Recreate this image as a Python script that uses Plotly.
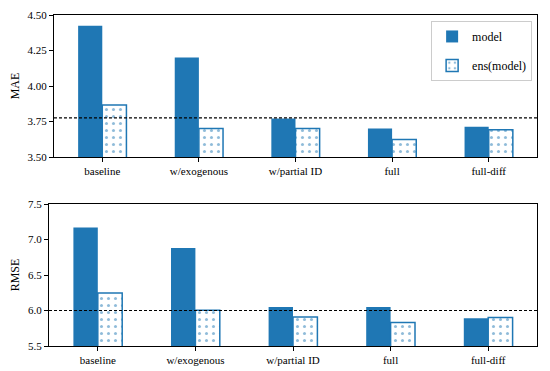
import plotly.graph_objects as go
from plotly.subplots import make_subplots

categories = ["baseline", "w/exogenous", "w/partial ID", "full", "full-diff"]
mae_model = [4.425, 4.20, 3.772, 3.70, 3.713]
mae_ens = [3.866, 3.70, 3.70, 3.624, 3.692]
rmse_model = [7.17, 6.88, 6.05, 6.05, 5.89]
rmse_ens = [6.246, 6.003, 5.91, 5.83, 5.90]
mae_ref = 3.775
rmse_ref = 6.0

blue = "#1f77b4"
font_family = "Liberation Serif"
tick_family = "serif"

fig = make_subplots(rows=2, cols=1, vertical_spacing=0.1)

for row, (m, e) in enumerate([(mae_model, mae_ens), (rmse_model, rmse_ens)], start=1):
    fig.add_trace(go.Bar(x=categories, y=m, name="model", marker=dict(color=blue, line=dict(width=0)),
                         showlegend=(row == 1), legendgroup="model"), row=row, col=1)
    fig.add_trace(go.Bar(x=categories, y=e, name="ens(model)",
                         marker=dict(color="white", line=dict(color=blue, width=1.5),
                                     pattern=dict(shape=".", fgcolor=blue, bgcolor="white", size=7, solidity=0.15)),
                         showlegend=(row == 1), legendgroup="ens"), row=row, col=1)

fig.add_hline(y=mae_ref, line=dict(color="black", dash="3px,2px", width=1.2), row=1, col=1)
fig.add_hline(y=rmse_ref, line=dict(color="black", dash="3px,2px", width=1.2), row=2, col=1)

tfont = dict(family=tick_family, size=11, color="black")
axis_common = dict(showline=True, linecolor="black", linewidth=1, mirror=True, ticks="outside",
                   ticklen=4, tickcolor="black", showgrid=False, zeroline=False, automargin=False,
                   tickfont=tfont)

fig.update_xaxes(**axis_common)
fig.update_yaxes(**axis_common)
fig.update_layout(
    xaxis=dict(domain=[0.0102, 1.0], range=[-0.5, 4.5]),
    xaxis2=dict(domain=[0.0, 1.0], range=[-0.5, 4.5]),
    yaxis=dict(domain=[0.571, 1.0], range=[3.5, 4.5], tickvals=[3.5, 3.75, 4.0, 4.25, 4.5], tickformat=".2f",
               title=dict(text="MAE", font=dict(family=font_family, size=12, color="black"), standoff=8)),
    yaxis2=dict(domain=[0.0, 0.429], range=[5.5, 7.5], tickvals=[5.5, 6.0, 6.5, 7.0, 7.5], tickformat=".1f",
                title=dict(text="RMSE", font=dict(family=font_family, size=12, color="black"), standoff=8)),
    barmode="group", bargap=0.5, bargroupgap=0.0,
    width=550, height=371,
    margin=dict(l=41, r=21, t=7, b=33),
    paper_bgcolor="white", plot_bgcolor="white",
    font=dict(family=font_family, size=11, color="black"),
    legend=dict(x=0.99, y=0.982, xanchor="right", yanchor="top", bgcolor="white",
                bordercolor="#cccccc", borderwidth=1, font=dict(family=font_family, size=12)),
)

fig.write_html("out.html")
